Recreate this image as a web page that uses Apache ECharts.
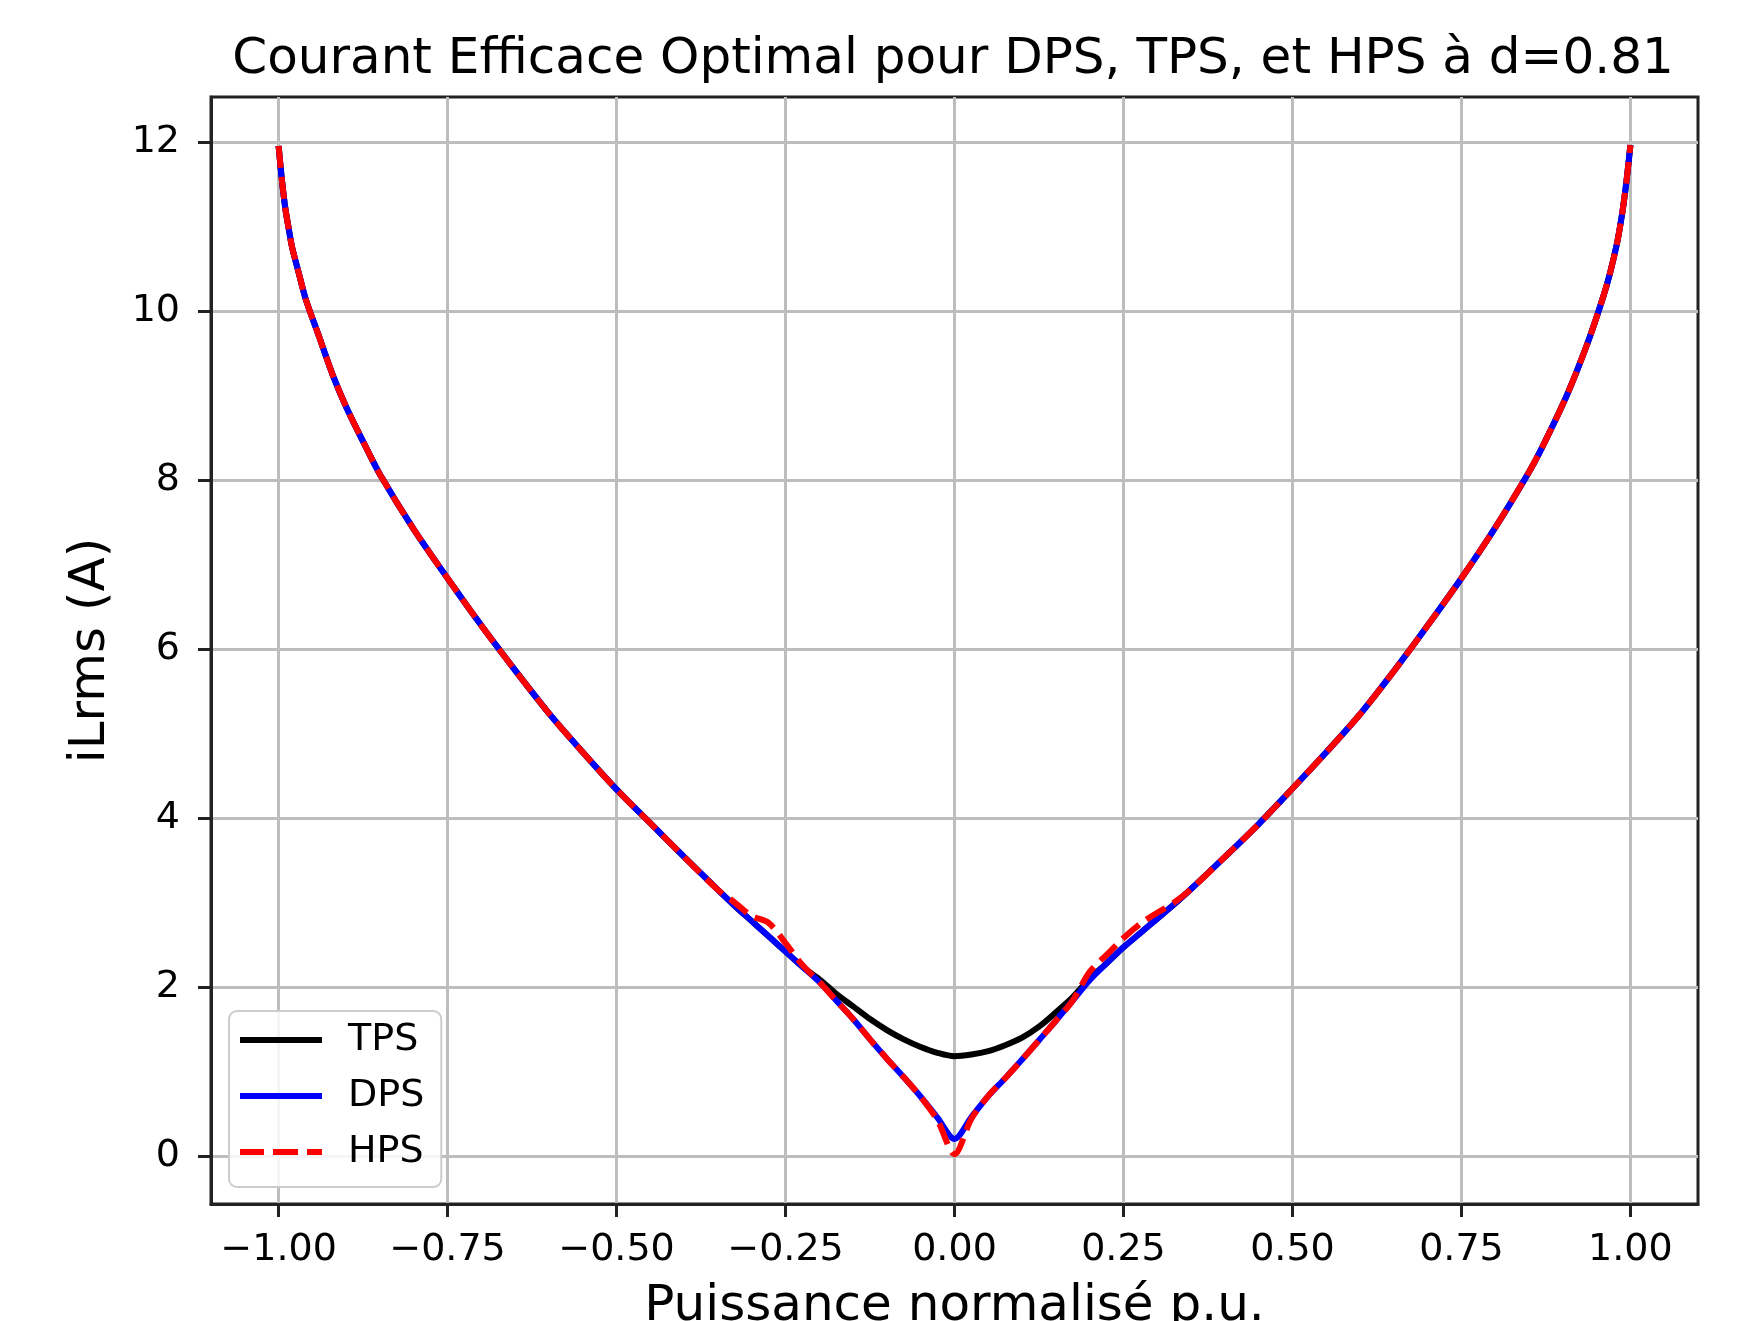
<!DOCTYPE html>
<html>
<head>
<meta charset="utf-8">
<script src="https://cdn.jsdelivr.net/npm/echarts@6/dist/echarts.min.js"></script>
<style>
  html, body { margin: 0; padding: 0; background: #fff; }
  #main { width: 1748px; height: 1321px; }
</style>
</head>
<body>
<div id="main"></div>
<script>
var chartDom = document.getElementById('main');
var myChart = echarts.init(chartDom);
var option;

// puissance normalisée (p.u.)
var xs = [-1, -0.995, -0.99, -0.985, -0.98, -0.97, -0.96, -0.94, -0.92, -0.9, -0.87, -0.85,
    -0.8, -0.75, -0.7, -0.65, -0.6, -0.55, -0.5, -0.45, -0.4, -0.35,
    -0.325, -0.3, -0.275, -0.25, -0.225, -0.2, -0.175, -0.15, -0.125, -0.1,
    -0.075, -0.05, -0.025, 0, 0.025, 0.05, 0.075,
    0.1, 0.125, 0.15, 0.175, 0.2, 0.225, 0.25, 0.275, 0.3, 0.325, 0.35,
    0.4, 0.45, 0.5, 0.55, 0.6, 0.65, 0.7, 0.75, 0.8, 0.85, 0.87,
    0.9, 0.92, 0.94, 0.96, 0.97, 0.98, 0.985, 0.99, 0.995, 1];

var dps = [11.96, 11.55, 11.22, 10.98, 10.76, 10.45, 10.15, 9.70, 9.25, 8.87, 8.38, 8.07,
    7.42, 6.84, 6.28, 5.75, 5.24, 4.78, 4.34, 3.94, 3.54, 3.15,
    2.96, 2.78, 2.60, 2.42, 2.24, 2.06, 1.84, 1.62, 1.38, 1.15,
    0.93, 0.70, 0.45, 0.20, 0.46, 0.71, 0.92,
    1.14, 1.37, 1.60, 1.84, 2.08, 2.28, 2.47, 2.64, 2.81, 2.98, 3.16,
    3.54, 3.93, 4.35, 4.78, 5.23, 5.74, 6.28, 6.84, 7.44, 8.10, 8.40,
    8.90, 9.28, 9.70, 10.18, 10.46, 10.80, 11.02, 11.28, 11.60, 11.97];

var tps = [11.96, 11.55, 11.22, 10.98, 10.76, 10.45, 10.15, 9.70, 9.25, 8.87, 8.38, 8.07,
    7.42, 6.84, 6.28, 5.75, 5.24, 4.78, 4.34, 3.94, 3.54, 3.15,
    2.96, 2.78, 2.60, 2.42, 2.24, 2.09, 1.92, 1.77, 1.62, 1.49,
    1.38, 1.29, 1.22, 1.18, 1.20, 1.24, 1.31,
    1.40, 1.53, 1.70, 1.88, 2.10, 2.28, 2.47, 2.64, 2.81, 2.98, 3.16,
    3.54, 3.93, 4.35, 4.78, 5.23, 5.74, 6.28, 6.84, 7.44, 8.10, 8.40,
    8.90, 9.28, 9.70, 10.18, 10.46, 10.80, 11.02, 11.28, 11.60, 11.97];

var hps = [11.96, 11.55, 11.22, 10.98, 10.76, 10.45, 10.15, 9.70, 9.25, 8.87, 8.38, 8.07,
    7.42, 6.84, 6.28, 5.75, 5.24, 4.78, 4.34, 3.94, 3.54, 3.15,
    3.00, 2.84, 2.76, 2.52, 2.26, 2.06, 1.84, 1.62, 1.38, 1.15,
    0.93, 0.70, 0.42, 0.02, 0.44, 0.71, 0.92,
    1.14, 1.37, 1.60, 1.84, 2.18, 2.38, 2.58, 2.75, 2.88, 3.00, 3.16,
    3.54, 3.93, 4.35, 4.78, 5.23, 5.74, 6.28, 6.84, 7.44, 8.10, 8.40,
    8.90, 9.28, 9.70, 10.18, 10.46, 10.80, 11.02, 11.28, 11.60, 11.97];

var xTicks = [-1, -0.75, -0.5, -0.25, 0, 0.25, 0.5, 0.75, 1];
var yTicks = [0, 2, 4, 6, 8, 10, 12];

var font = 'DejaVu Sans';
var solidIcon = 'path://M0,0h82v6h-82z';
var dashIcon = 'path://M0,0h24v6h-24z M33,0h25v6h-25z M67,0h15v6h-15z';

function pairs(ys) {
    return xs.map(function (x, i) { return [x, ys[i]]; });
}

option = {
    animation: false,
    backgroundColor: '#fff',
    title: {
        text: 'Courant Efficace Optimal pour DPS, TPS, et HPS à d=0.81',
        left: 948,
        top: 30,
        textAlign: 'center',
        textStyle: {
            fontFamily: font,
            fontSize: 50,
            fontWeight: 'normal',
            color: '#000'
        }
    },
    grid: {
        left: 211,
        top: 97,
        width: 1487,
        height: 1107,
        show: true,
        borderColor: '#222',
        borderWidth: 3,
        containLabel: false,
        outerBoundsMode: 'none'
    },
    legend: {
        orient: 'vertical',
        left: 229,
        top: 1011,
        padding: [9, 17, 15, 11],
        itemWidth: 82,
        itemHeight: 6,
        itemGap: 16,
        backgroundColor: 'rgba(255,255,255,0.85)',
        borderColor: '#cccccc',
        borderWidth: 2,
        borderRadius: 8,
        textStyle: {
            fontFamily: font,
            fontSize: 38,
            lineHeight: 40,
            color: '#000',
            padding: [0, 0, 0, 21]
        },
        data: [
            { name: 'TPS', icon: solidIcon },
            { name: 'DPS', icon: solidIcon },
            { name: 'HPS', icon: dashIcon }
        ]
    },
    xAxis: {
        type: 'value',
        min: -1.1,
        max: 1.1,
        name: 'Puissance normalisé p.u.',
        nameLocation: 'middle',
        nameGap: 78,
        nameTextStyle: { fontFamily: font, fontSize: 50, color: '#000' },
        axisLine: { show: true, onZero: false, lineStyle: { color: '#222', width: 3 } },
        axisTick: { show: true, length: 13, lineStyle: { color: '#222', width: 3 }, customValues: xTicks },
        axisLabel: {
            customValues: xTicks,
            margin: 27,
            fontFamily: font,
            fontSize: 38,
            color: '#000',
            formatter: function (v) { return v.toFixed(2).replace('-', '\u2212'); }
        },
        splitLine: { show: true, lineStyle: { color: '#bdbdbd', width: 3 } }
    },
    yAxis: {
        type: 'value',
        min: -0.57,
        max: 12.54,
        name: 'iLrms (A)',
        nameLocation: 'middle',
        nameRotate: 90,
        nameGap: 95,
        nameTextStyle: { fontFamily: font, fontSize: 50, color: '#000' },
        axisLine: { show: true, onZero: false, lineStyle: { color: '#222', width: 3 } },
        axisTick: { show: true, length: 13, lineStyle: { color: '#222', width: 3 }, customValues: yTicks },
        axisLabel: {
            customValues: yTicks,
            margin: 31,
            fontFamily: font,
            fontSize: 38,
            color: '#000'
        },
        splitLine: { show: true, lineStyle: { color: '#bdbdbd', width: 3 } }
    },
    series: [
        {
            name: 'TPS',
            type: 'line',
            data: pairs(tps),
            symbol: 'none',
            smooth: 0.3,
            color: '#000000',
            lineStyle: { color: '#000000', width: 6 }
        },
        {
            name: 'DPS',
            type: 'line',
            data: pairs(dps),
            symbol: 'none',
            smooth: 0.3,
            color: '#0000ff',
            lineStyle: { color: '#0000ff', width: 6 }
        },
        {
            name: 'HPS',
            type: 'line',
            data: pairs(hps),
            symbol: 'none',
            smooth: 0.3,
            color: '#ff0000',
            lineStyle: { color: '#ff0000', width: 6, type: [22, 9] }
        }
    ]
};

option && myChart.setOption(option);
window.onresize = function () {
    myChart.resize();
};
</script>
</body>
</html>
